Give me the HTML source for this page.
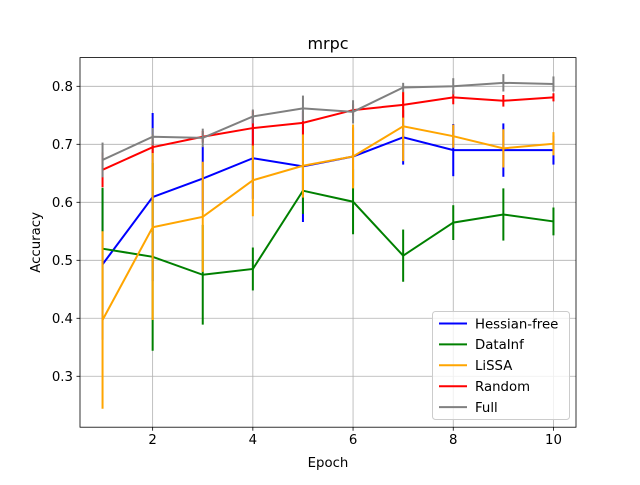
<!DOCTYPE html>
<html><head><meta charset="utf-8"><style>
body{margin:0;background:#fff;}
svg{font-family:"DejaVu Sans","Liberation Sans",sans-serif;}
</style></head><body>
<svg id="chart" width="640" height="480" xmlns="http://www.w3.org/2000/svg">
<rect width="640" height="480" fill="#fff"/>
<g id="grid"></g><g id="series"></g><g id="axes"></g>
</svg>
<script>
const epochs=[1,2,3,4,5,6,7,8,9,10];
const seriesNames=["Hessian-free","DataInf","LiSSA","Random","Full"];
const seriesColors=["blue","green","orange","red","gray"];
const hfMean=[0.493,0.609,0.641,0.676,0.662,0.679,0.712,0.690,0.690,0.690];
const hfErr=[0.13,0.145,0.055,0.07,0.096,0.05,0.047,0.045,0.046,0.025];
const diMean=[0.520,0.506,0.475,0.485,0.620,0.601,0.508,0.565,0.579,0.567];
const diErr=[0.105,0.162,0.086,0.037,0.04,0.056,0.045,0.03,0.045,0.024];
const liMean=[0.397,0.557,0.575,0.638,0.663,0.679,0.731,0.714,0.693,0.701];
const liErr=[0.153,0.16,0.095,0.062,0.055,0.055,0.06,0.02,0.033,0.02];
const rnMean=[0.656,0.695,0.713,0.728,0.737,0.759,0.768,0.781,0.775,0.781];
const rnErr=[0.03,0.01,0.01,0.03,0.02,0.01,0.022,0.012,0.01,0.007];
const fuMean=[0.673,0.713,0.711,0.748,0.762,0.756,0.798,0.800,0.806,0.804];
const fuErr=[0.03,0.015,0.016,0.012,0.022,0.02,0.008,0.014,0.015,0.013];
const xTicks=[2,4,6,8,10];
const yTicks=[0.3,0.4,0.5,0.6,0.7,0.8];

const means=[hfMean,diMean,liMean,rnMean,fuMean];
const errs=[hfErr,diErr,liErr,rnErr,fuErr];
const L=80,R=576,T=57.6,B=427.2;
const xMin=0.55,xMax=10.45,yMin=0.2122,yMax=0.8495;
const X=v=>L+(v-xMin)/(xMax-xMin)*(R-L);
const Y=v=>B-(v-yMin)/(yMax-yMin)*(B-T);
const NS="http://www.w3.org/2000/svg";
function mk(tag,attrs,parent,text){const e=document.createElementNS(NS,tag);for(const k in attrs)e.setAttribute(k,attrs[k]);if(text!==undefined)e.textContent=text;parent.appendChild(e);return e;}
const grid=document.getElementById('grid'),ser=document.getElementById('series'),ax=document.getElementById('axes');
xTicks.forEach(t=>{
 const g=mk('line',{x1:X(t),x2:X(t),y1:T,y2:B,stroke:'#b0b0b0','stroke-width':0.8},grid);
 
 
 mk('line',{x1:X(t),x2:X(t),y1:B,y2:B+3.5,stroke:'#000','stroke-width':0.8},ax);
 const tx=mk('text',{x:X(t),y:B+17,'font-size':13.3,'text-anchor':'middle'},ax,String(t));
 
 
});
yTicks.forEach(t=>{
 const g=mk('line',{x1:L,x2:R,y1:Y(t),y2:Y(t),stroke:'#b0b0b0','stroke-width':0.8},grid);
 
 
 mk('line',{x1:L-3.5,x2:L,y1:Y(t),y2:Y(t),stroke:'#000','stroke-width':0.8},ax);
 const tx=mk('text',{x:L-7,y:Y(t)+4.8,'font-size':13.3,'text-anchor':'end'},ax,t.toFixed(1));
 
 
});
means.forEach((m,i)=>{
 const g=mk('g',{},ser);
 
 
 m.forEach((v,j)=>{
  const e=mk('line',{x1:X(epochs[j]),x2:X(epochs[j]),y1:Y(v-errs[i][j]),y2:Y(v+errs[i][j]),stroke:seriesColors[i],'stroke-width':2},g);
  
  
 });
 const p=mk('polyline',{points:m.map((v,j)=>X(epochs[j])+','+Y(v)).join(' '),fill:'none',stroke:seriesColors[i],'stroke-width':2},g);
 
 
});
const fr=mk('rect',{x:L,y:T,width:R-L,height:B-T,fill:'none',stroke:'#000','stroke-width':0.8},ax);


const ti=mk('text',{x:(L+R)/2,y:49,'font-size':16,'text-anchor':'middle'},ax,'mrpc');


const xl=mk('text',{x:(L+R)/2,y:467,'font-size':13.3,'text-anchor':'middle'},ax,'Epoch');


const yl=mk('text',{x:0,y:0,'font-size':13.3,'text-anchor':'middle',transform:'translate(40,'+((T+B)/2)+') rotate(-90)'},ax,'Accuracy');


const lg=mk('g',{},ax);


mk('rect',{x:432.5,y:311.5,width:137,height:108,rx:3,fill:'#fff','fill-opacity':0.8,stroke:'#ccc','stroke-width':1},lg);
seriesNames.forEach((n,i)=>{
 const y=323.5+i*20.9;
 const e=mk('g',{},lg);
 
 
 mk('line',{x1:439,x2:467,y1:y,y2:y,stroke:seriesColors[i],'stroke-width':2},e);
 mk('text',{x:475,y:y+4.8,'font-size':13.3},e,n);
});
</script>
</body></html>
